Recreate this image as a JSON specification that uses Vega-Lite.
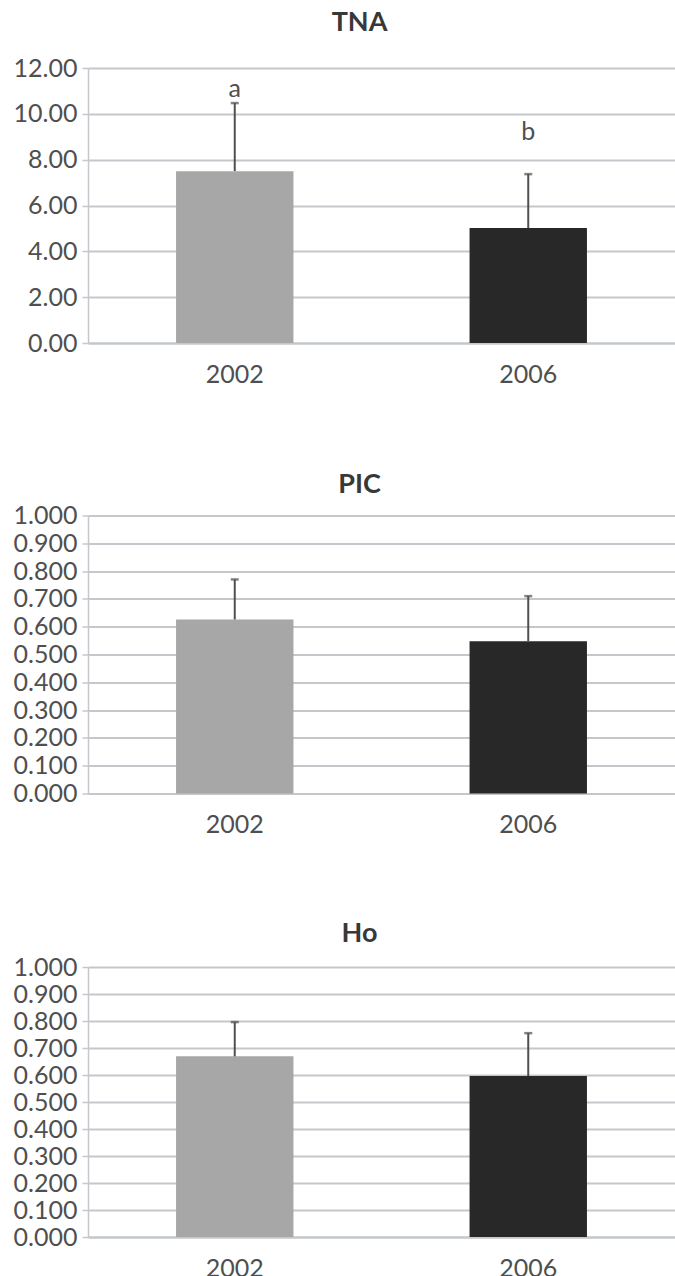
{
  "$schema": "https://vega.github.io/schema/vega-lite/v6.json",
  "background": "#ffffff",
  "padding": {"left": 8, "top": 8, "right": 0, "bottom": 0},
  "spacing": 82.5,
  "data": {
    "values": [
      {"metric": "TNA", "year": "2002", "mean": 7.50, "upper": 10.47, "sig": "a", "sig_y": 11.07},
      {"metric": "TNA", "year": "2006", "mean": 5.02, "upper": 7.37, "sig": "b", "sig_y": 9.2},
      {"metric": "PIC", "year": "2002", "mean": 0.626, "upper": 0.770, "sig": null, "sig_y": null},
      {"metric": "PIC", "year": "2006", "mean": 0.548, "upper": 0.710, "sig": null, "sig_y": null},
      {"metric": "Ho", "year": "2002", "mean": 0.669, "upper": 0.796, "sig": null, "sig_y": null},
      {"metric": "Ho", "year": "2006", "mean": 0.596, "upper": 0.755, "sig": null, "sig_y": null}
    ]
  },
  "config": {
    "font": "Lato",
    "view": {"stroke": null},
    "title": {"font": "Lato", "fontSize": 27, "fontWeight": "bold", "color": "#383838", "anchor": "middle", "dx": -22},
    "axis": {
      "labelFont": "Lato",
      "labelFontSize": 25,
      "labelColor": "#4f4f4f",
      "title": null,
      "gridColor": "#c4c7cc",
      "gridWidth": 2,
      "domainColor": "#c4c7cc",
      "domainWidth": 1.5,
      "tickColor": "#c4c7cc",
      "tickWidth": 1.5,
      "labelOverlap": false
    },
    "axisX": {"labelAngle": 0, "ticks": false, "labelPadding": 19, "domainWidth": 2, "grid": false},
    "axisY": {"tickSize": 6, "labelPadding": 5, "minExtent": 80, "maxExtent": 80, "domain": true}
  },
  "vconcat": [
    {
      "title": {"text": "TNA", "offset": 19.5},
      "width": 587,
      "height": 275,
      "transform": [{"filter": "datum.metric === 'TNA'"}],
      "encoding": {
        "x": {"field": "year", "type": "nominal", "scale": {"paddingInner": 0.6, "paddingOuter": 0.3}, "axis": {"title": null, "minExtent": 45, "maxExtent": 45}}
      },
      "layer": [
        {
          "mark": {"type": "bar"},
          "encoding": {
            "y": {"field": "mean", "type": "quantitative", "scale": {"domain": [0, 12], "nice": false}, "axis": {"values": [0, 2, 4, 6, 8, 10, 12], "tickCount": 7, "format": ".2f"}},
            "color": {"field": "year", "type": "nominal", "scale": {"range": ["#a7a7a7", "#282828"]}, "legend": null}
          }
        },
        {
          "mark": {"type": "rule", "color": "#4f4f4f", "strokeWidth": 2},
          "encoding": {"y": {"field": "mean", "type": "quantitative", "axis": {"values": [0, 2, 4, 6, 8, 10, 12], "tickCount": 7, "format": ".2f"}}, "y2": {"field": "upper"}}
        },
        {
          "mark": {"type": "tick", "color": "#4f4f4f", "size": 8, "thickness": 2.5},
          "encoding": {"y": {"field": "upper", "type": "quantitative", "axis": {"values": [0, 2, 4, 6, 8, 10, 12], "tickCount": 7, "format": ".2f"}}}
        },
        {
          "mark": {"type": "text", "font": "Lato", "fontSize": 25, "color": "#4f4f4f", "baseline": "middle"},
          "encoding": {"y": {"field": "sig_y", "type": "quantitative", "axis": {"values": [0, 2, 4, 6, 8, 10, 12], "tickCount": 7, "format": ".2f"}}, "text": {"field": "sig"}}
        }
      ]
    },
    {
      "title": {"text": "PIC", "offset": 5},
      "width": 587,
      "height": 278,
      "transform": [{"filter": "datum.metric === 'PIC'"}],
      "encoding": {
        "x": {"field": "year", "type": "nominal", "scale": {"paddingInner": 0.6, "paddingOuter": 0.3}, "axis": {"title": null, "minExtent": 41, "maxExtent": 41}}
      },
      "layer": [
        {
          "mark": {"type": "bar"},
          "encoding": {
            "y": {"field": "mean", "type": "quantitative", "scale": {"domain": [0, 1], "nice": false}, "axis": {"values": [0, 0.1, 0.2, 0.3, 0.4, 0.5, 0.6, 0.7, 0.8, 0.9, 1.0], "tickCount": 11, "format": ".3f"}},
            "color": {"field": "year", "type": "nominal", "scale": {"range": ["#a7a7a7", "#383838"]}, "legend": null}
          }
        },
        {
          "mark": {"type": "rule", "color": "#4f4f4f", "strokeWidth": 2},
          "encoding": {"y": {"field": "mean", "type": "quantitative", "axis": {"values": [0, 0.1, 0.2, 0.3, 0.4, 0.5, 0.6, 0.7, 0.8, 0.9, 1.0], "tickCount": 11, "format": ".3f"}}, "y2": {"field": "upper"}}
        },
        {
          "mark": {"type": "tick", "color": "#4f4f4f", "size": 8, "thickness": 2.5},
          "encoding": {"y": {"field": "upper", "type": "quantitative", "axis": {"values": [0, 0.1, 0.2, 0.3, 0.4, 0.5, 0.6, 0.7, 0.8, 0.9, 1.0], "tickCount": 11, "format": ".3f"}}}
        }
      ]
    },
    {
      "title": {"text": "Ho", "offset": 7},
      "width": 587,
      "height": 270,
      "transform": [{"filter": "datum.metric === 'Ho'"}],
      "encoding": {
        "x": {"field": "year", "type": "nominal", "scale": {"paddingInner": 0.6, "paddingOuter": 0.3}, "axis": {"title": null, "minExtent": 38, "maxExtent": 38}}
      },
      "layer": [
        {
          "mark": {"type": "bar"},
          "encoding": {
            "y": {"field": "mean", "type": "quantitative", "scale": {"domain": [0, 1], "nice": false}, "axis": {"values": [0, 0.1, 0.2, 0.3, 0.4, 0.5, 0.6, 0.7, 0.8, 0.9, 1.0], "tickCount": 11, "format": ".3f"}},
            "color": {"field": "year", "type": "nominal", "scale": {"range": ["#a7a7a7", "#2e2e2e"]}, "legend": null}
          }
        },
        {
          "mark": {"type": "rule", "color": "#4f4f4f", "strokeWidth": 2},
          "encoding": {"y": {"field": "mean", "type": "quantitative", "axis": {"values": [0, 0.1, 0.2, 0.3, 0.4, 0.5, 0.6, 0.7, 0.8, 0.9, 1.0], "tickCount": 11, "format": ".3f"}}, "y2": {"field": "upper"}}
        },
        {
          "mark": {"type": "tick", "color": "#4f4f4f", "size": 8, "thickness": 2.5},
          "encoding": {"y": {"field": "upper", "type": "quantitative", "axis": {"values": [0, 0.1, 0.2, 0.3, 0.4, 0.5, 0.6, 0.7, 0.8, 0.9, 1.0], "tickCount": 11, "format": ".3f"}}}
        }
      ]
    }
  ]
}
